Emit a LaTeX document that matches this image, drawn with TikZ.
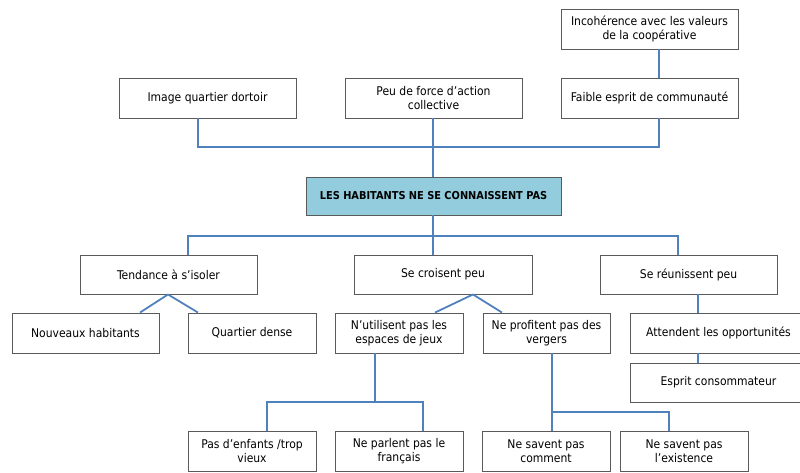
\documentclass[tikz,border=0pt]{standalone}
\usepackage{fontspec}
\usetikzlibrary{calc}
\setmainfont{DejaVu Sans Condensed}
\begin{document}
\begin{tikzpicture}[x=1pt,y=-1pt,
  box/.style={draw=boxgray, line width=0.9pt, fill=white, align=center,
    inner sep=2pt, font=\fontsize{12}{14.5}\selectfont, text=black},
  core/.style={box, fill=corefill, font=\bfseries\fontsize{10.9}{13}\selectfont},
  link/.style={draw=linkblue, line width=1.8pt}]
\definecolor{boxgray}{HTML}{5A5A5A}
\definecolor{corefill}{HTML}{93CDDD}
\definecolor{linkblue}{HTML}{4F81BD}
\useasboundingbox (0,0) rectangle (800,472);
\clip (0,0) rectangle (800,472);

% junction points of the connector trees
\coordinate (topbarL) at (198,147);
\coordinate (topbarR) at (659,147);
\coordinate (midbar) at (433,236);
\coordinate (jeuxbar) at (375,402);
\coordinate (vergbar) at (552,412);

% top row
\node[box, minimum width=177pt, minimum height=40pt] (img) at (207.5,98) {Image quartier dortoir};
\node[box, minimum width=177pt, minimum height=40pt] (peu) at (433.5,98) {Peu de force d'action\\collective};
\node[box, minimum width=177pt, minimum height=40pt] (faible) at (649.5,98) {Faible esprit de communauté};
\node[box, minimum width=177pt, minimum height=40pt] (incoh) at (649.5,29) {Incohérence avec les valeurs\\de la coopérative};

% central problem
\node[core, minimum width=255pt, minimum height=38pt] (core) at (433.5,196) {LES HABITANTS NE SE CONNAISSENT PAS};

% second row
\node[box, minimum width=177pt, minimum height=39pt] (tend) at (168.5,274.5) {Tendance à s'isoler};
\node[box, minimum width=178pt, minimum height=39pt] (crois) at (443,274.5) {Se croisent peu};
\node[box, minimum width=177pt, minimum height=39pt] (reun) at (688.5,274.5) {Se réunissent peu};

% third row
\node[box, minimum width=147pt, minimum height=40pt] (nouv) at (85.5,333) {Nouveaux habitants};
\node[box, minimum width=128pt, minimum height=40pt] (dense) at (252,333) {Quartier dense};
\node[box, minimum width=128pt, minimum height=40pt] (jeux) at (399,333) {N'utilisent pas les\\espaces de jeux};
\node[box, minimum width=127pt, minimum height=40pt] (verg) at (546.5,333) {Ne profitent pas des\\vergers};
\node[box, minimum width=177pt, minimum height=40pt] (attend) at (718.5,333) {Attendent les opportunités};
\node[box, minimum width=177pt, minimum height=39pt] (conso) at (718.5,382.5) {Esprit consommateur};

% bottom row
\node[box, minimum width=128pt, minimum height=40pt] (enf) at (252,451) {Pas d'enfants /trop\\vieux};
\node[box, minimum width=128pt, minimum height=40pt] (parl) at (399,451) {Ne parlent pas le\\français};
\node[box, minimum width=128pt, minimum height=40pt] (comm) at (546,451) {Ne savent pas\\comment};
\node[box, minimum width=128pt, minimum height=40pt] (exist) at (684,451) {Ne savent pas\\l'existence};

% upper tree
\draw[link] (incoh.south -| topbarR) -- (faible.north -| topbarR);
\draw[link] (img.south -| topbarL) -- (topbarL) -- (topbarR) -- (faible.south -| topbarR);
\draw[link] (peu.south -| midbar) -- (core.north -| midbar);
% lower tree
\draw[link] (core.south -| midbar) -- (midbar);
\draw[link] (tend.north -| 188,0) -- (188,236) -- (678,236) -- (reun.north -| 678,0);
\draw[link] (midbar) -- (crois.north -| midbar);
% fans under the second row
\draw[link] ($(tend.south)+(-0.5,0)$) -- (nouv.north -| 140,0);
\draw[link] ($(tend.south)+(-0.5,0)$) -- (dense.north -| 198,0);
\draw[link] (crois.south -| 473,0) -- (jeux.north -| 435,0);
\draw[link] (crois.south -| 473,0) -- (verg.north -| 502,0);
\draw[link] (reun.south -| 698,0) -- (attend.north -| 698,0);
\draw[link] (attend.south -| 698,0) -- (conso.north -| 698,0);
% bottom forks
\draw[link] (jeux.south -| jeuxbar) -- (jeuxbar);
\draw[link] (enf.north -| 267,0) -- (267,402) -- (423,402) -- (parl.north -| 423,0);
\draw[link] (verg.south -| vergbar) -- (comm.north -| vergbar);
\draw[link] (vergbar) -- (669,412) -- (exist.north -| 669,0);
\end{tikzpicture}
\end{document}
